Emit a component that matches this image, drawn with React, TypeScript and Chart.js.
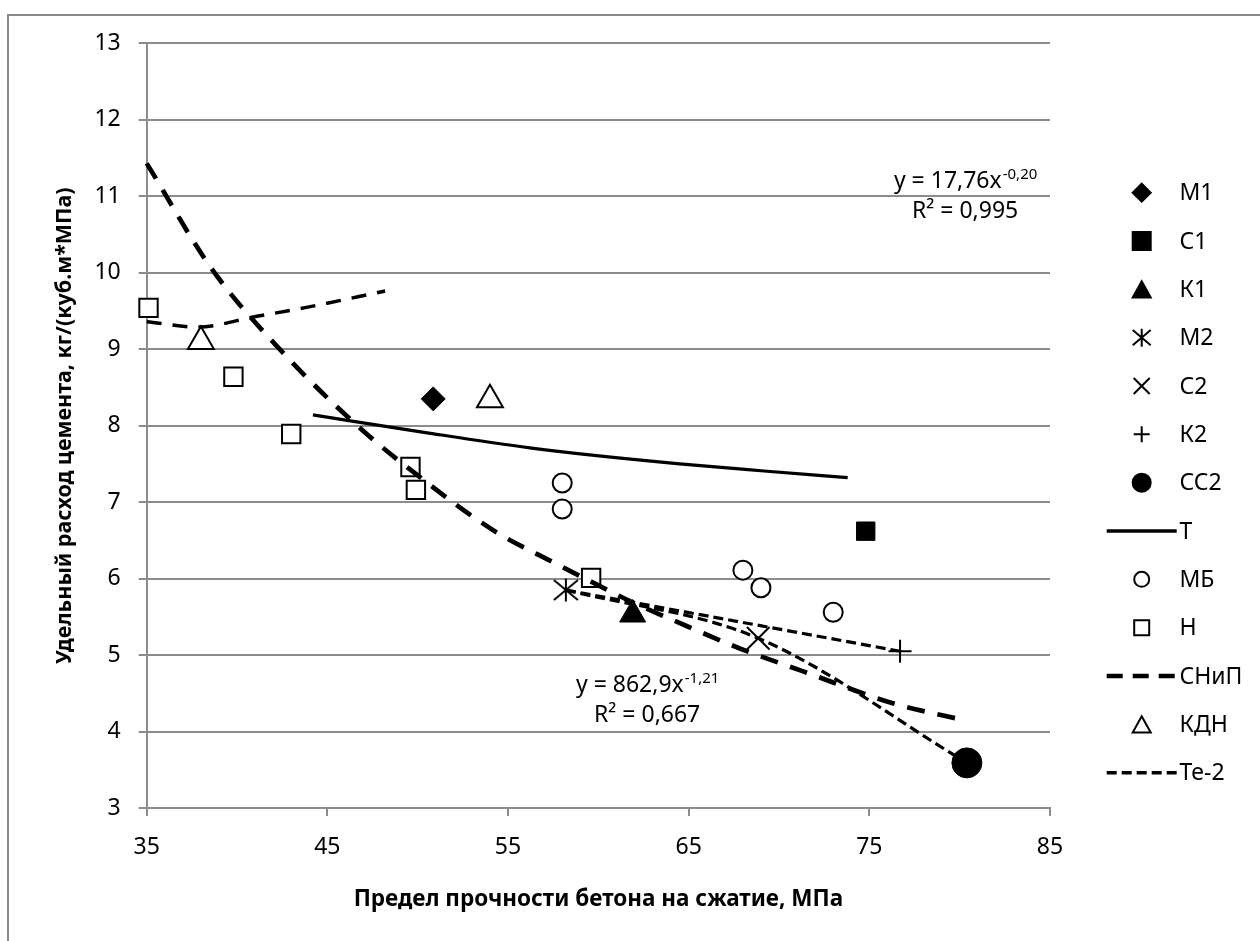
import React, { useEffect, useRef } from "react";
import { Chart, registerables } from "chart.js";

Chart.register(...registerables);

const FONT = '"Noto Sans", "Open Sans", sans-serif';
const INK = "#000000";
const GRID = "#8c8c8c";

// Axis ranges
const X_MIN = 35;
const X_MAX = 85;
const X_STEP = 10;
const Y_MIN = 3;
const Y_MAX = 13;
const Y_STEP = 1;

const xTitle = "Предел прочности бетона на сжатие, МПа";
const yTitle = "Удельный расход цемента, кг/(куб.м*МПа)";

// Measured points: compressive strength (MPa) vs specific cement consumption
const m1 = [{ x: 50.86, y: 8.35 }];
const c1 = [{ x: 74.8, y: 6.62 }];
const k1 = [{ x: 61.9, y: 5.53 }];
const m2 = [{ x: 58.2, y: 5.85 }];
const c2 = [{ x: 68.85, y: 5.22 }];
const k2 = [{ x: 76.7, y: 5.05 }];
const cc2 = [{ x: 80.4, y: 3.59 }];
const mb = [
  { x: 58.0, y: 7.25 },
  { x: 58.0, y: 6.91 },
  { x: 68.0, y: 6.11 },
  { x: 69.0, y: 5.88 },
  { x: 73.0, y: 5.56 },
];
const nPts = [
  { x: 35.1, y: 9.54 },
  { x: 39.8, y: 8.64 },
  { x: 43.0, y: 7.89 },
  { x: 49.6, y: 7.46 },
  { x: 49.9, y: 7.16 },
  { x: 59.6, y: 6.01 },
];
const kdn = [
  { x: 38.0, y: 9.1 },
  { x: 54.0, y: 8.34 },
];

// Curves
const tCurve = [
  { x: 44.2, y: 8.14 },
  { x: 50.7, y: 7.9 },
  { x: 56.2, y: 7.71 },
  { x: 59.0, y: 7.63 },
  { x: 64.5, y: 7.5 },
  { x: 69.0, y: 7.41 },
  { x: 73.8, y: 7.32 },
];
const snipCurve = [
  { x: 35.0, y: 11.43 },
  { x: 38.6, y: 10.05 },
  { x: 42.4, y: 8.99 },
  { x: 46.75, y: 7.98 },
  { x: 50.6, y: 7.24 },
  { x: 54.2, y: 6.63 },
  { x: 57.6, y: 6.2 },
  { x: 59.6, y: 5.96 },
  { x: 61.8, y: 5.7 },
  { x: 64.2, y: 5.45 },
  { x: 67.9, y: 5.08 },
  { x: 71.3, y: 4.79 },
  { x: 76.3, y: 4.37 },
  { x: 80.2, y: 4.15 },
];
const te2Main = [
  { x: 58.2, y: 5.85 },
  { x: 68.85, y: 5.22 },
  { x: 80.4, y: 3.59 },
];
const te2Branch = [
  { x: 58.2, y: 5.85 },
  { x: 76.7, y: 5.05 },
];
const nTrend = [
  { x: 35.0, y: 9.36 },
  { x: 37.8, y: 9.29 },
  { x: 41.1, y: 9.43 },
  { x: 43.7, y: 9.54 },
  { x: 48.2, y: 9.76 },
];

// Regression captions
const eqT = { main: "y = 17,76x", sup: "-0,20", r2: "R² = 0,995" };
const eqAll = { main: "y = 862,9x", sup: "-1,21", r2: "R² = 0,667" };
const eqTAnchor = { x: 80.3, y: 11.11 };
const eqAllAnchor = { x: 62.7, y: 4.52 };

const SNIP_DASH = [18, 13];
const TE2_DASH = [10, 5];
const TREND_DASH = [15, 11];

type LegendEntry = {
  label: string;
  kind: "marker" | "line";
  style?: string;
  size?: number;
  filled?: boolean;
  width?: number;
  dash?: number[];
};

const legendEntries: LegendEntry[] = [
  { label: "М1", kind: "marker", style: "rectRot", size: 18, filled: true },
  { label: "С1", kind: "marker", style: "rect", size: 18, filled: true },
  { label: "К1", kind: "marker", style: "triangle", size: 18, filled: true },
  { label: "М2", kind: "marker", style: "asterisk", size: 18 },
  { label: "С2", kind: "marker", style: "crossRot", size: 16 },
  { label: "К2", kind: "marker", style: "cross", size: 16 },
  { label: "СС2", kind: "marker", style: "circle", size: 18, filled: true },
  { label: "Т", kind: "line", width: 3.5, dash: [] },
  { label: "МБ", kind: "marker", style: "circle", size: 17 },
  { label: "Н", kind: "marker", style: "rect", size: 17 },
  { label: "СНиП", kind: "line", width: 4.5, dash: [16, 10] },
  { label: "КДН", kind: "marker", style: "triangle", size: 18 },
  { label: "Те-2", kind: "line", width: 3.5, dash: [10, 5] },
];

function makeAsterisk(w: number, h: number, lw: number): HTMLCanvasElement {
  const c = document.createElement("canvas");
  c.width = w;
  c.height = h;
  const g = c.getContext("2d")!;
  g.strokeStyle = INK;
  g.lineWidth = lw;
  g.beginPath();
  g.moveTo(w / 2, 0.5);
  g.lineTo(w / 2, h - 0.5);
  g.moveTo(1, 2);
  g.lineTo(w - 1, h - 2);
  g.moveTo(1, h - 2);
  g.lineTo(w - 1, 2);
  g.stroke();
  return c;
}

function drawLegendMarker(ctx: CanvasRenderingContext2D, e: LegendEntry, x: number, y: number) {
  const s = e.size || 16;
  const h = s / 2;
  ctx.save();
  ctx.lineWidth = 2;
  ctx.strokeStyle = INK;
  ctx.fillStyle = e.filled ? INK : "#ffffff";
  ctx.setLineDash([]);
  ctx.beginPath();
  switch (e.style) {
    case "rectRot":
      ctx.moveTo(x, y - h);
      ctx.lineTo(x + h, y);
      ctx.lineTo(x, y + h);
      ctx.lineTo(x - h, y);
      ctx.closePath();
      break;
    case "rect":
      if (e.filled) ctx.rect(x - h, y - h, s, s);
      else ctx.rect(x - h + 1, y - h + 1, s - 2, s - 2);
      break;
    case "triangle": {
      const th = s * 0.9;
      ctx.moveTo(x, y - th / 2);
      ctx.lineTo(x + h, y + th / 2);
      ctx.lineTo(x - h, y + th / 2);
      ctx.closePath();
      break;
    }
    case "circle":
      ctx.arc(x, y, e.filled ? h : h - 1, 0, Math.PI * 2);
      break;
    case "crossRot":
      ctx.moveTo(x - h, y - h);
      ctx.lineTo(x + h, y + h);
      ctx.moveTo(x - h, y + h);
      ctx.lineTo(x + h, y - h);
      break;
    case "cross":
      ctx.moveTo(x - h, y);
      ctx.lineTo(x + h, y);
      ctx.moveTo(x, y - h);
      ctx.lineTo(x, y + h);
      break;
    case "asterisk":
      ctx.moveTo(x, y - h);
      ctx.lineTo(x, y + h);
      ctx.moveTo(x - h, y - h * 0.85);
      ctx.lineTo(x + h, y + h * 0.85);
      ctx.moveTo(x - h, y + h * 0.85);
      ctx.lineTo(x + h, y - h * 0.85);
      break;
  }
  if (e.style === "rectRot" || e.style === "rect" || e.style === "triangle" || e.style === "circle") {
    ctx.fill();
  }
  ctx.stroke();
  ctx.restore();
}

function drawEquation(
  ctx: CanvasRenderingContext2D,
  cx: number,
  baseline: number,
  eq: { main: string; sup: string; r2: string }
) {
  ctx.save();
  ctx.fillStyle = INK;
  ctx.textBaseline = "alphabetic";
  ctx.textAlign = "left";
  const mainFont = `23px ${FONT}`;
  const supFont = `15px ${FONT}`;
  ctx.font = mainFont;
  const wMain = ctx.measureText(eq.main).width;
  ctx.font = supFont;
  const wSup = ctx.measureText(eq.sup).width;
  const x0 = cx - (wMain + wSup) / 2;
  ctx.font = mainFont;
  ctx.fillText(eq.main, x0, baseline);
  ctx.font = supFont;
  ctx.fillText(eq.sup, x0 + wMain + 1, baseline - 9);
  ctx.font = mainFont;
  ctx.textAlign = "center";
  ctx.fillText(eq.r2, cx, baseline + 30);
  ctx.restore();
}

const overlayPlugin = {
  id: "overlayText",
  afterDraw(chart: any) {
    const { ctx, chartArea } = chart;
    const xs = chart.scales.x;
    const ys = chart.scales.y;
    drawEquation(ctx, xs.getPixelForValue(eqTAnchor.x), ys.getPixelForValue(eqTAnchor.y), eqT);
    drawEquation(ctx, xs.getPixelForValue(eqAllAnchor.x), ys.getPixelForValue(eqAllAnchor.y), eqAll);

    // legend column to the right of the plot
    const markX = chartArea.right + 91.7;
    const lineX0 = chartArea.right + 56.7;
    const lineX1 = chartArea.right + 126.7;
    const textX = chartArea.right + 129.5;
    const top = 192.7;
    const step = 48.33;
    ctx.save();
    legendEntries.forEach((e, i) => {
      const y = top + i * step;
      if (e.kind === "line") {
        ctx.save();
        ctx.strokeStyle = INK;
        ctx.lineWidth = e.width || 3;
        ctx.setLineDash(e.dash || []);
        ctx.lineCap = "butt";
        ctx.beginPath();
        ctx.moveTo(lineX0, y);
        ctx.lineTo(lineX1, y);
        ctx.stroke();
        ctx.restore();
      } else {
        drawLegendMarker(ctx, e, markX, y);
      }
      ctx.fillStyle = INK;
      ctx.font = `23px ${FONT}`;
      ctx.textAlign = "left";
      ctx.textBaseline = "middle";
      ctx.fillText(e.label, textX, y + 1);
    });
    ctx.restore();
  },
};

export default function App() {
  const canvasRef = useRef<HTMLCanvasElement | null>(null);

  useEffect(() => {
    const canvas = canvasRef.current;
    if (!canvas) return;
    const asterisk = makeAsterisk(26, 24, 2);

    const marker = (
      label: string,
      data: { x: number; y: number }[],
      style: any,
      radius: number,
      filled: boolean,
      width = 2
    ) => ({
      label,
      data,
      showLine: false,
      pointStyle: style,
      pointRadius: radius,
      pointBackgroundColor: filled ? INK : "#ffffff",
      pointBorderColor: INK,
      pointBorderWidth: width,
      backgroundColor: filled ? INK : "#ffffff",
      borderColor: INK,
      clip: false as const,
      order: 2,
    });

    const curve = (label: string, data: { x: number; y: number }[], width: number, dash: number[]) => ({
      label,
      data,
      showLine: true,
      pointRadius: 0,
      borderColor: INK,
      backgroundColor: INK,
      borderWidth: width,
      borderDash: dash,
      borderCapStyle: "butt" as const,
      cubicInterpolationMode: "monotone" as const,
      fill: false,
      clip: false as const,
      order: 1,
    });

    const chart = new Chart(canvas, {
      type: "scatter",
      data: {
        datasets: [
          marker("М1", m1, "rectRot", 12, true, 1),
          marker("С1", c1, "rect", 13, true, 1),
          marker("К1", k1, "triangle", 15, true, 1),
          marker("М2", m2, asterisk, 12, false),
          marker("С2", c2, "crossRot", 16, false),
          marker("К2", k2, "cross", 11.5, false),
          marker("СС2", cc2, "circle", 15, true, 1),
          marker("МБ", mb, "circle", 9.5, false),
          marker("Н", nPts, "rect", 13, false),
          marker("КДН", kdn, "triangle", 15, false),
          curve("Т", tCurve, 3.2, []),
          curve("СНиП", snipCurve, 4.7, SNIP_DASH),
          curve("Те-2", te2Main, 3.2, TE2_DASH),
          curve("Те-2 ветвь", te2Branch, 3.2, TE2_DASH),
          curve("Н тренд", nTrend, 3.5, TREND_DASH),
        ] as any,
      },
      options: {
        animation: false,
        responsive: true,
        maintainAspectRatio: false,
        events: [],
        layout: { padding: { left: 0, top: 43.3, right: 210, bottom: 0 } },
        plugins: {
          legend: { display: false },
          tooltip: { enabled: false },
        },
        scales: {
          x: {
            type: "linear",
            position: "bottom",
            min: X_MIN,
            max: X_MAX,
            ticks: {
              stepSize: X_STEP,
              color: INK,
              padding: 18,
              maxRotation: 0,
              font: { family: FONT, size: 23 },
            },
            grid: {
              drawOnChartArea: false,
              drawTicks: true,
              tickLength: 8,
              color: GRID,
              lineWidth: 2,
            },
            border: { display: true, color: GRID, width: 2 },
            title: {
              display: true,
              text: xTitle,
              color: INK,
              font: { family: FONT, size: 22.5, weight: "bold" },
              padding: { top: 0, bottom: 28 },
            },
            afterFit: (s: any) => {
              s.height = 133;
            },
          },
          y: {
            type: "linear",
            position: "left",
            min: Y_MIN,
            max: Y_MAX,
            ticks: {
              stepSize: Y_STEP,
              color: INK,
              padding: 18,
              font: { family: FONT, size: 23 },
            },
            grid: {
              drawOnChartArea: true,
              drawTicks: true,
              tickLength: 8,
              color: GRID,
              lineWidth: 2,
            },
            border: { display: true, color: GRID, width: 2 },
            title: {
              display: true,
              text: yTitle,
              color: INK,
              font: { family: FONT, size: 21.5, weight: "bold" },
              padding: { top: 52, bottom: 0 },
            },
            afterFit: (s: any) => {
              s.width = 146.7;
            },
          },
        },
      } as any,
      plugins: [overlayPlugin],
    });

    return () => chart.destroy();
  }, []);

  return (
    <div
      style={{
        position: "fixed",
        left: 0,
        top: 0,
        width: 1260,
        height: 941,
        overflow: "hidden",
        background: "#ffffff",
      }}
    >
      <div
        style={{
          position: "absolute",
          left: 7,
          top: 14,
          width: 1400,
          height: 1100,
          border: "2px solid #8a8a8a",
        }}
      />
      <div style={{ position: "absolute", left: 0, top: 0, width: 1260, height: 941 }}>
        <canvas ref={canvasRef} />
      </div>
    </div>
  );
}
